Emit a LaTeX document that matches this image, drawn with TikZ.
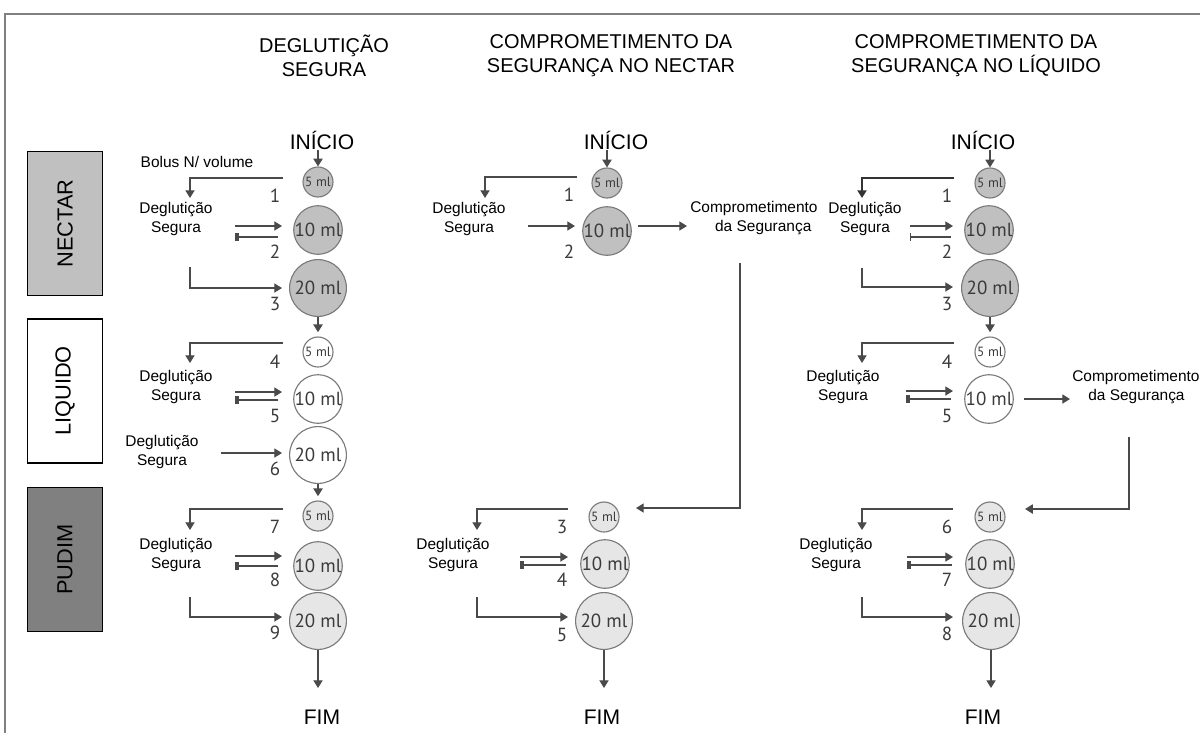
\documentclass[tikz,border=0pt]{standalone}
\usepackage{fontspec}
\setmainfont{Liberation Sans}
\newfontfamily\myr{PT Sans}
\usetikzlibrary{arrows.meta}
\definecolor{linec}{HTML}{4A4A4A}
\definecolor{circd}{HTML}{7A7A7A}
\definecolor{numc}{HTML}{3A3A3A}
\definecolor{nectf}{HTML}{C0C0C0}
\definecolor{pudf}{HTML}{E6E6E6}
\definecolor{pudbox}{HTML}{808080}
\definecolor{framec}{HTML}{808080}
\begin{document}
\begin{tikzpicture}[x=0.025cm,y=-0.025cm,
  title/.style={align=center, font=\fontsize{14.2}{17}\selectfont, inner sep=0},
  endtxt/.style={font=\fontsize{15}{18}\selectfont, inner sep=0},
  dtxt/.style={align=center, font=\fontsize{11}{13.5}\selectfont, inner sep=0},
  ctxt/.style={align=left, font=\fontsize{11}{13.5}\selectfont, inner sep=0, anchor=west},
  num/.style={font=\myr\fontsize{13.5}{15}\selectfont, inner sep=0, text=numc},
  vol/.style={circle, draw=circd, line width=0.8pt, inner sep=0, font=\myr\fontsize{13.5}{14}\selectfont, text=numc},
  v5/.style={vol, minimum size=0.75cm, font=\myr\fontsize{9.5}{10}\selectfont},
  v10/.style={vol, minimum size=1.08cm},
  v20/.style={vol, minimum size=1.42cm},
  nect/.style={fill=nectf}, liq/.style={fill=white}, pud/.style={fill=pudf},
  catbox/.style={draw=black, line width=1pt, rotate=90, minimum width=3.6cm, minimum height=1.87cm, inner sep=0, font=\fontsize{15.5}{18}\selectfont},
  conn/.style={draw=linec, line width=1pt},
  arr/.style={conn, -{Triangle[length=5.5pt,width=6.5pt]}},
  blob/.style={conn, -{Rectangle[length=2.6pt,width=6pt]}},
  barend/.style={conn, -{Bar[width=6pt]}},
]
\useasboundingbox (0,0) rectangle (1200,733);
% frame
\draw[framec, line width=1.5pt] (5,733) -- (5,14) -- (1200,14);

% titles
\node[title] (t1) at (324,56) {DEGLUTIÇÃO\\SEGURA};
\node[title] (t2) at (611,56) {COMPROMETIMENTO DA\\SEGURANÇA NO NECTAR};
\node[title] (t3) at (976,56) {COMPROMETIMENTO DA\\SEGURANÇA NO LÍQUIDO};

% category boxes
\node[catbox, fill=nectf] (bn) at (65,223.5) {NECTAR};
\node[catbox, fill=white] (bl) at (65,391) {LIQUIDO};
\node[catbox, fill=pudbox] (bp) at (65,559.5) {PUDIM};

%================ column 1
\node[endtxt] (ini1) at (322,140) {INÍCIO};
\node[endtxt] (fim1) at (322,717) {FIM};
\node[v5,nect] (c1a) at (318,182) {5 ml};
\node[v10,nect] (c1b) at (318,230) {10 ml};
\node[v20,nect] (c1c) at (318,288) {20 ml};
\node[v5,liq] (c1d) at (318,352) {5 ml};
\node[v10,liq] (c1e) at (318,399) {10 ml};
\node[v20,liq] (c1f) at (318,455) {20 ml};
\node[v5,pud] (c1g) at (318,516) {5 ml};
\node[v10,pud] (c1h) at (318,566) {10 ml};
\node[v20,pud] (c1i) at (318,621) {20 ml};
\node[dtxt] (bolus) at (197,162) {Bolus N/ volume};
\node[dtxt] (d1a) at (176,219) {Deglutição\\Segura};
\node[dtxt] (d1b) at (176,387) {Deglutição\\Segura};
\node[dtxt] (d1c) at (162,452) {Deglutição\\Segura};
\node[dtxt] (d1d) at (176,555) {Deglutição\\Segura};
\node[num] (n1a) at (275,196) {1};
\node[num] (n1b) at (275,252) {2};
\node[num] (n1c) at (275,304) {3};
\node[num] (n1d) at (275,362) {4};
\node[num] (n1e) at (275,416) {5};
\node[num] (n1f) at (275,469) {6};
\node[num] (n1g) at (275,527) {7};
\node[num] (n1h) at (275,580) {8};
\node[num] (n1i) at (275,633) {9};

\draw[arr] (ini1.south -| c1a) -- (c1a);
\draw[arr] (283,178) coordinate (p1a) -| (190,198) coordinate (q1a);
\draw[arr] (235,226) coordinate (p1b) -- (282,226) coordinate (q1b);
\draw[blob] (278,237) coordinate (p1c) -- (235,237) coordinate (q1c);
\draw[arr] (190,267) coordinate (p1d) |- (282,288) coordinate (q1d);
\draw[arr, shorten >=3pt] (c1c) -- (c1d);
\draw[arr] (283,343) coordinate (p1e) -| (190,363) coordinate (q1e);
\draw[arr] (235,392) coordinate (p1f) -- (282,392) coordinate (q1f);
\draw[blob] (278,400) coordinate (p1g) -- (235,400) coordinate (q1g);
\draw[arr] (221,453) coordinate (p1h) -- (282,453) coordinate (q1h);
\draw[arr, shorten >=3pt] (c1f) -- (c1g);
\draw[arr] (283,509) coordinate (p1i) -| (190,530) coordinate (q1i);
\draw[arr] (235,556) coordinate (p1j) -- (282,556) coordinate (q1j);
\draw[blob] (278,566) coordinate (p1k) -- (235,566) coordinate (q1k);
\draw[arr] (190,597) coordinate (p1l) |- (282,617) coordinate (q1l);
\draw[arr] (c1i) -- (318,688) coordinate (e1);

%================ column 2
\node[endtxt] (ini2) at (616,140) {INÍCIO};
\node[endtxt] (fim2) at (602,717) {FIM};
\node[v5,nect] (c2a) at (607,183) {5 ml};
\node[v10,nect] (c2b) at (607,231) {10 ml};
\node[v5,pud] (c2c) at (604,517) {5 ml};
\node[v10,pud] (c2d) at (605,564) {10 ml};
\node[v20,pud] (c2e) at (604,621) {20 ml};
\node[dtxt] (d2a) at (469,219) {Deglutição\\Segura};
\node[dtxt] (d2b) at (453,555) {Deglutição\\Segura};
\node[ctxt] (cp2) at (690,218) {Comprometimento\\\hspace*{0.62cm}da Segurança};
\node[num] (n2a) at (569,195) {1};
\node[num] (n2b) at (569,252) {2};
\node[num] (n2c) at (562,527) {3};
\node[num] (n2d) at (562,580) {4};
\node[num] (n2e) at (562,635) {5};

\draw[arr] (ini2.south -| c2a) -- (c2a);
\draw[arr] (577,177) coordinate (p2a) -| (485,198) coordinate (q2a);
\draw[arr] (528,226) coordinate (p2b) -- (575,226) coordinate (q2b);
\draw[arr] (638,226) coordinate (p2c) -- (687,226) coordinate (q2c);
\draw[arr] (740,263) coordinate (p2d) |- (636,508) coordinate (q2d);
\draw[arr] (568,509) coordinate (p2e) -| (477,530) coordinate (q2e);
\draw[arr] (520,557) coordinate (p2f) -- (568,557) coordinate (q2f);
\draw[blob] (566,565) coordinate (p2g) -- (520,565) coordinate (q2g);
\draw[arr] (477,597) coordinate (p2h) |- (568,617) coordinate (q2h);
\draw[arr] (c2e) -- (604,688) coordinate (e2);

%================ column 3
\node[endtxt] (ini3) at (983,140) {INÍCIO};
\node[endtxt] (fim3) at (983,717) {FIM};
\node[v5,nect] (c3a) at (990,183) {5 ml};
\node[v10,nect] (c3b) at (989,230) {10 ml};
\node[v20,nect] (c3c) at (990,288) {20 ml};
\node[v5,liq] (c3d) at (990,352) {5 ml};
\node[v10,liq] (c3e) at (989,399) {10 ml};
\node[v5,pud] (c3f) at (990,517) {5 ml};
\node[v10,pud] (c3g) at (990,564) {10 ml};
\node[v20,pud] (c3h) at (991,621) {20 ml};
\node[dtxt] (d3a) at (865,219) {Deglutição\\Segura};
\node[dtxt] (d3b) at (843,387) {Deglutição\\Segura};
\node[dtxt] (d3c) at (836,555) {Deglutição\\Segura};
\node[ctxt] (cp3) at (1072,387) {Comprometimento\\\hspace*{0.4cm}da Segurança};
\node[num] (n3a) at (947,196) {1};
\node[num] (n3b) at (947,252) {2};
\node[num] (n3c) at (947,304) {3};
\node[num] (n3d) at (947,362) {4};
\node[num] (n3e) at (947,416) {5};
\node[num] (n3f) at (947,527) {6};
\node[num] (n3g) at (947,580) {7};
\node[num] (n3h) at (947,634) {8};

\draw[arr] (ini3.south -| c3a) -- (c3a);
\draw[arr, line width=1.6pt, draw=black!80] (954,178) coordinate (p3a) -| (862,198) coordinate (q3a);
\draw[arr] (910,226) coordinate (p3b) -- (953,226) coordinate (q3b);
\draw[barend] (951,237) coordinate (p3c) -- (910,237) coordinate (q3c);
\draw[arr] (862,268) coordinate (p3d) |- (953,287) coordinate (q3d);
\draw[arr, shorten >=3pt] (c3c) -- (c3d);
\draw[arr] (954,343) coordinate (p3e) -| (862,363) coordinate (q3e);
\draw[arr] (906,391) coordinate (p3f) -- (953,391) coordinate (q3f);
\draw[blob] (951,399) coordinate (p3g) -- (906,399) coordinate (q3g);
\draw[arr] (1024,399) coordinate (p3h) -- (1070,399) coordinate (q3h);
\draw[arr] (1129,437) coordinate (p3i) |- (1025,509) coordinate (q3i);
\draw[arr] (953,509) coordinate (p3j) -| (862,530) coordinate (q3j);
\draw[arr] (907,557) coordinate (p3k) -- (953,557) coordinate (q3k);
\draw[blob] (952,565) coordinate (p3l) -- (907,565) coordinate (q3l);
\draw[arr] (862,597) coordinate (p3m) |- (953,617) coordinate (q3m);
\draw[arr] (c3h) -- (991,688) coordinate (e3);
\end{tikzpicture}
\end{document}
